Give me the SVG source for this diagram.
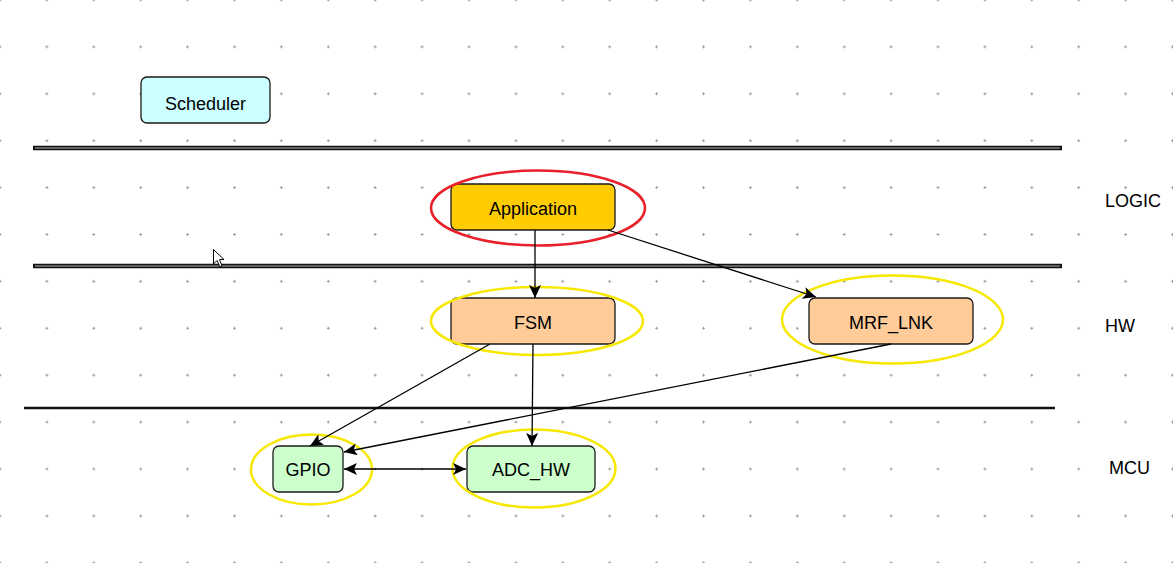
<svg xmlns="http://www.w3.org/2000/svg" width="1173" height="563" viewBox="0 0 1173 563">
<defs>
<pattern id="grid" x="-23.45" y="-23.45" width="46.9" height="46.9" patternUnits="userSpaceOnUse">
<path d="M21.95,23.45 h3 M23.45,21.95 v3" stroke="#a0a0a0" stroke-width="1" fill="none"/>
</pattern>
<marker id="arr" markerUnits="userSpaceOnUse" markerWidth="16" markerHeight="14" refX="13" refY="6" orient="auto">
<path d="M0,0 L13,6 L0,12 L3,6 z" fill="#000"/>
</marker>
<marker id="arrs" markerUnits="userSpaceOnUse" markerWidth="16" markerHeight="14" refX="0" refY="6" orient="auto">
<path d="M13,0 L0,6 L13,12 L10,6 z" fill="#000"/>
</marker>
</defs>
<style>
.node rect{stroke:#1a1a1a;stroke-width:1.3}
.node text,.lbl{font-family:"Liberation Sans",Arial,sans-serif;font-size:18px;fill:#000}
.node text{text-anchor:middle}
.ring{fill:none;stroke-width:2.5}
.y{stroke:#f7e800}
.r{stroke:#e8202a}
.conn line{stroke:#000;stroke-width:1.3}
</style>
<rect width="1173" height="563" fill="#fff"/>
<rect width="1173" height="563" fill="url(#grid)"/>
<g id="separators">
<line x1="33" y1="148" x2="1062" y2="148" stroke="#111" stroke-width="4.5"/>
<line x1="35" y1="148" x2="1060" y2="148" stroke="#b5b5b5" stroke-width="1.2"/>
<line x1="33" y1="266" x2="1062" y2="266" stroke="#111" stroke-width="4.5"/>
<line x1="35" y1="266" x2="1060" y2="266" stroke="#b5b5b5" stroke-width="1.2"/>
<line x1="24" y1="408" x2="1055" y2="408" stroke="#111" stroke-width="2.4"/>
</g>
<g id="Scheduler" class="node"><rect x="141" y="77" width="129" height="46" rx="6" fill="#ccffff"/><text x="205.5" y="109.5">Scheduler</text></g>
<g id="Application" class="node"><rect x="451" y="184" width="164" height="46" rx="6" fill="#ffcc00"/><text x="533" y="215">Application</text></g>
<g id="FSM" class="node"><rect x="451" y="298" width="164" height="46" rx="6" fill="#ffcc99"/><text x="533" y="328.5">FSM</text></g>
<g id="MRF_LNK" class="node"><rect x="809" y="298" width="164" height="46" rx="6" fill="#ffcc99"/><text x="891" y="329">MRF_LNK</text></g>
<g id="GPIO" class="node"><rect x="273" y="446" width="70" height="46" rx="6" fill="#ccffcc"/><text x="308" y="476">GPIO</text></g>
<g id="ADC_HW" class="node"><rect x="467" y="446" width="128" height="46" rx="6" fill="#ccffcc"/><text x="531" y="476">ADC_HW</text></g>
<g id="rings">
<ellipse class="ring r" cx="538" cy="208" rx="107" ry="37.5"/>
<ellipse class="ring y" cx="537" cy="321" rx="106" ry="34"/>
<ellipse class="ring y" cx="892.5" cy="319.5" rx="110.5" ry="44"/>
<ellipse class="ring y" cx="311.5" cy="469.5" rx="60.5" ry="35"/>
<ellipse class="ring y" cx="534" cy="468.5" rx="81.5" ry="39"/>
</g>
<g id="connectors" class="conn">
<line x1="535" y1="230" x2="535" y2="298" marker-end="url(#arr)"/>
<line x1="608" y1="230" x2="816" y2="297" marker-end="url(#arr)"/>
<line x1="490" y1="344" x2="310" y2="446" marker-end="url(#arr)"/>
<line x1="533" y1="344" x2="532" y2="446" marker-end="url(#arr)"/>
<line x1="891" y1="344" x2="344" y2="452" marker-end="url(#arr)"/>
<line x1="344" y1="469" x2="466" y2="469" marker-start="url(#arrs)" marker-end="url(#arr)"/>
</g>
<g id="layer-labels">
<text class="lbl" x="1105" y="206.5">LOGIC</text>
<text class="lbl" x="1105" y="331.5">HW</text>
<text class="lbl" x="1109" y="473.5">MCU</text>
</g>
<path id="cursor" d="M213.5,249.5 V264 L217,260.5 L220,267 L222,266 L219.5,259.5 L224,259.5 Z" fill="#fff" stroke="#000" stroke-width="1"/>
</svg>
